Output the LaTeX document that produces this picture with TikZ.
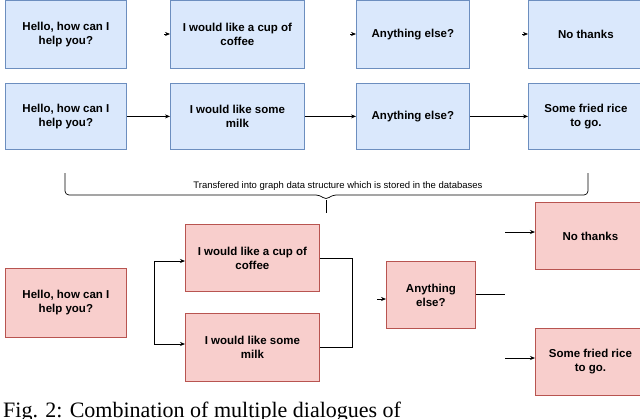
\documentclass[tikz,border=0pt]{standalone}
\usepackage{fontspec}
\setmainfont{Liberation Sans}
\newfontfamily\capfont{Liberation Serif}
\usetikzlibrary{arrows.meta}
\definecolor{bfill}{HTML}{DAE8FC}\definecolor{bdraw}{HTML}{6C8EBF}
\definecolor{rfill}{HTML}{F8CECC}\definecolor{rdraw}{HTML}{B85450}
\tikzset{
 bx/.style={draw=bdraw,fill=bfill,line width=0.8pt,align=center,font=\fontsize{11.5}{14}\selectfont\bfseries,inner sep=1pt},
 rx/.style={draw=rdraw,fill=rfill,line width=0.8pt,align=center,font=\fontsize{11.5}{14}\selectfont\bfseries,inner sep=1pt},
 conn/.style={line width=0.7pt,-{Stealth[length=5pt,width=4pt]}},
 ln/.style={line width=0.7pt}
}
\begin{document}
\begin{tikzpicture}[x=1pt,y=-1pt]
\useasboundingbox (0,0) rectangle (640,418);
\clip (0,0) rectangle (640,418);
% top row
\node[bx,minimum width=121pt,minimum height=68pt,anchor=north west] (a1) at (5,0) {Hello, how can I\\help you?};
\node[bx,minimum width=134pt,minimum height=68pt,anchor=north west] (a2) at (170,0) {I would like a cup of\\coffee};
\node[bx,minimum width=113pt,minimum height=68pt,anchor=north west] (a3) at (356,0) {Anything else?};
\node[bx,minimum width=115pt,minimum height=68pt,anchor=north west] (a4) at (528,0) {No thanks};
\coordinate (p1) at (164,34); \coordinate (p2) at (350,34); \coordinate (p3) at (522,34);
\draw[conn] (p1) -- (a2.west|-p1);
\draw[conn] (p2) -- (a3.west|-p2);
\draw[conn] (p3) -- (a4.west|-p3);
% second row
\node[bx,minimum width=121pt,minimum height=66pt,anchor=north west] (b1) at (5,83) {Hello, how can I\\help you?};
\node[bx,minimum width=134pt,minimum height=66pt,anchor=north west] (b2) at (170,83) {I would like some\\milk};
\node[bx,minimum width=113pt,minimum height=66pt,anchor=north west] (b3) at (356,83) {Anything else?};
\node[bx,minimum width=115pt,minimum height=66pt,anchor=north west] (b4) at (528,83) {Some fried rice\\to go.};
\draw[conn] (b1) -- (b2);
\draw[conn] (b2) -- (b3);
\draw[conn] (b3) -- (b4);
% brace
\coordinate (bl) at (65,173); \coordinate (br) at (588,173); \coordinate (tip) at (326,213);
\draw[ln,rounded corners=4pt] (bl) -- (65,195) -- (320,195) -- (326,200) -- (332,195) -- (588,195) -- (br);
\draw[ln] (326,200) -- (tip);
\node[font=\fontsize{9.5}{11}\selectfont,inner sep=0] (bt) at (338,186) {Transfered into graph data structure which is stored in the databases};
% bottom
\node[rx,minimum width=121pt,minimum height=69pt,anchor=north west] (c1) at (5,268) {Hello, how can I\\help you?};
\node[rx,minimum width=134pt,minimum height=67pt,anchor=north west] (c2) at (185,224) {I would like a cup of\\coffee};
\node[rx,minimum width=134pt,minimum height=68pt,anchor=north west] (c3) at (185,313) {I would like some\\milk};
\node[rx,minimum width=89pt,minimum height=67pt,anchor=north west] (c4) at (386,261) {Anything\\else?};
\node[rx,minimum width=110pt,minimum height=67pt,anchor=north west] (c5) at (535,202) {No thanks};
\node[rx,minimum width=110pt,minimum height=67pt,anchor=north west] (c6) at (535,328) {Some fried rice\\to go.};
\draw[conn] (154,303) |- (c2.west|-0,261);
\draw[conn] (154,303) |- (c3.west|-0,344);
\draw[ln] (c2.east|-0,258) -- (352,258) |- (c3.east|-0,347);
\coordinate (q) at (377,299);
\draw[conn] (q) -- (c4.west|-q);
\coordinate (j) at (505,294);
\draw[ln] (c4.east|-j) -- (j);
\coordinate (j1) at (505,232); \coordinate (j2) at (505,358);
\draw[conn] (j1) -- (c5.west|-j1);
\draw[conn] (j2) -- (c6.west|-j2);
\node[font=\capfont\fontsize{22}{26}\selectfont,anchor=north west,inner sep=0] (cap) at (3,402) {Fig. 2: Combination of multiple dialogues of};
\end{tikzpicture}
\end{document}
